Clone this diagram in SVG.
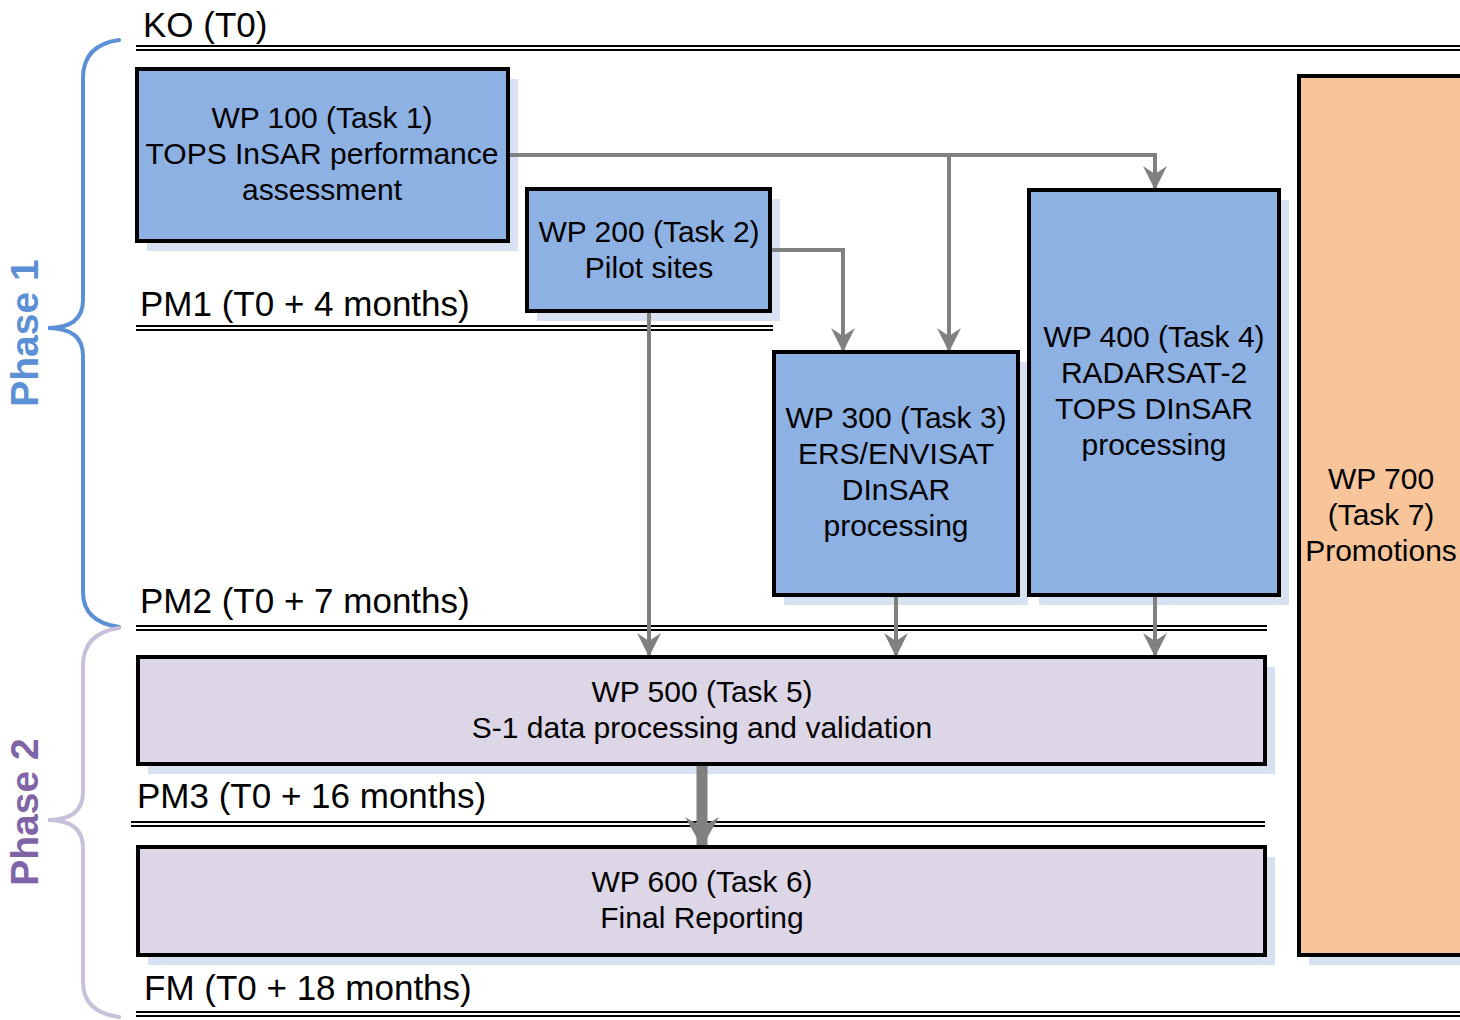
<svg xmlns="http://www.w3.org/2000/svg" width="1460" height="1020" viewBox="0 0 1460 1020">
<style>
text{font-family:"Liberation Sans",Arial,sans-serif;fill:#000}
.bt{font-size:30px;text-anchor:middle}
.ms{font-size:35px}
.box{stroke:#000;stroke-width:4}
.blue{fill:#8db1e3}
.lav{fill:#dcd6e6}
.org{fill:#f8c499}
.sh{fill:#bccdea;opacity:0.6}
.dl{stroke:#000;stroke-width:2;fill:none}
.con{stroke:#808080;stroke-width:4;fill:none}
</style>
<defs>
<marker id="ah" markerUnits="userSpaceOnUse" markerWidth="24" markerHeight="24" viewBox="0 0 24 24" refX="12" refY="22" orient="0">
<path d="M0,0 L12,8 L24,0 L12,24 Z" fill="#808080"/>
</marker>
<marker id="ah2" markerUnits="userSpaceOnUse" markerWidth="34" markerHeight="32" viewBox="0 0 34 32" refX="17" refY="30" orient="0">
<path d="M0,2 L17,12 L34,2 L17,32 Z" fill="#808080"/>
</marker>
</defs>

<g id="milestones">
<text class="ms" x="143" y="37">KO (T0)</text>
<path class="dl" d="M136,46 H1460 M136,50 H1460"/>
<text class="ms" x="140" y="316">PM1 (T0 + 4 months)</text>
<path class="dl" d="M136,326 H773 M136,330 H773"/>
<text class="ms" x="140" y="613">PM2 (T0 + 7 months)</text>
<path class="dl" d="M136,626 H1267 M136,630 H1267"/>
<text class="ms" x="137" y="808">PM3 (T0 + 16 months)</text>
<path class="dl" d="M131,822 H1265 M131,826 H1265"/>
<text class="ms" x="144" y="1000">FM (T0 + 18 months)</text>
<path class="dl" d="M136,1012 H1460 M136,1016 H1460"/>
</g>

<g id="phase1">
<path d="M119,40 Q83,45 83,78 V300 Q83,328 48,328 Q83,328 83,356 V592 Q83,622 119,627" fill="none" stroke="#5b8fd6" stroke-width="4" stroke-linecap="round"/>
<text x="24" y="333" transform="rotate(-90 24 333)" text-anchor="middle" dominant-baseline="central" font-size="39" font-weight="bold" style="fill:#5b8fd6">Phase 1</text>
</g>
<g id="phase2">
<path d="M119,628 Q83,633 83,666 V792 Q83,820 48,820 Q83,820 83,848 V982 Q83,1012 119,1017" fill="none" stroke="#c8bfdb" stroke-width="4" stroke-linecap="round"/>
<text x="24" y="812" transform="rotate(-90 24 812)" text-anchor="middle" dominant-baseline="central" font-size="39" font-weight="bold" style="fill:#7f64a8">Phase 2</text>
</g>

<g id="shadows">
<rect class="sh" x="147" y="79" width="371" height="172"/>
<rect class="sh" x="537" y="199" width="243" height="122"/>
<rect class="sh" x="784" y="362" width="244" height="243"/>
<rect class="sh" x="1039" y="200" width="250" height="405"/>
<rect class="sh" x="1309" y="86" width="151" height="879"/>
<rect class="sh" x="148" y="667" width="1127" height="107"/>
<rect class="sh" x="148" y="857" width="1127" height="108"/>
</g>

<g id="connectors">
<path class="con" d="M508,155 H1155 V188" marker-end="url(#ah)"/>
<path class="con" d="M949,155 V350" marker-end="url(#ah)"/>
<path class="con" d="M770,250 H843 V350" marker-end="url(#ah)"/>
<path class="con" d="M649,311 V655" marker-end="url(#ah)"/>
<path class="con" d="M896,595 V655" marker-end="url(#ah)"/>
<path class="con" d="M1155,595 V655" marker-end="url(#ah)"/>
<path d="M702,764 V845" stroke="#808080" stroke-width="11" fill="none" marker-end="url(#ah2)"/>
</g>

<g id="wp100">
<rect class="box blue" x="137" y="69" width="371" height="172"/>
<text class="bt" x="322" y="128">WP 100 (Task 1)</text>
<text class="bt" x="322" y="164">TOPS InSAR performance</text>
<text class="bt" x="322" y="200">assessment</text>
</g>
<g id="wp200">
<rect class="box blue" x="527" y="189" width="243" height="122"/>
<text class="bt" x="649" y="242">WP 200 (Task 2)</text>
<text class="bt" x="649" y="278">Pilot sites</text>
</g>
<g id="wp300">
<rect class="box blue" x="774" y="352" width="244" height="243"/>
<text class="bt" x="896" y="428">WP 300 (Task 3)</text>
<text class="bt" x="896" y="464">ERS/ENVISAT</text>
<text class="bt" x="896" y="500">DInSAR</text>
<text class="bt" x="896" y="536">processing</text>
</g>
<g id="wp400">
<rect class="box blue" x="1029" y="190" width="250" height="405"/>
<text class="bt" x="1154" y="347">WP 400 (Task 4)</text>
<text class="bt" x="1154" y="383">RADARSAT-2</text>
<text class="bt" x="1154" y="419">TOPS DInSAR</text>
<text class="bt" x="1154" y="455">processing</text>
</g>
<g id="wp700">
<rect class="box org" x="1299" y="76" width="170" height="879"/>
<text class="bt" x="1381" y="489">WP 700</text>
<text class="bt" x="1381" y="525">(Task 7)</text>
<text class="bt" x="1381" y="561">Promotions</text>
</g>
<g id="wp500">
<rect class="box lav" x="138" y="657" width="1127" height="107"/>
<text class="bt" x="702" y="702">WP 500 (Task 5)</text>
<text class="bt" x="702" y="738">S-1 data processing and validation</text>
</g>
<g id="wp600">
<rect class="box lav" x="138" y="847" width="1127" height="108"/>
<text class="bt" x="702" y="892">WP 600 (Task 6)</text>
<text class="bt" x="702" y="928">Final Reporting</text>
</g>
</svg>
